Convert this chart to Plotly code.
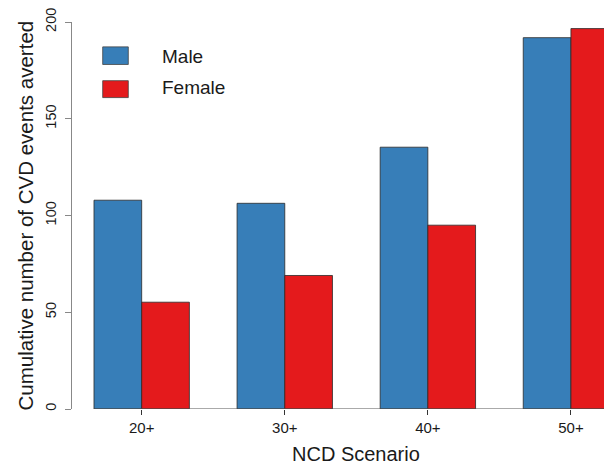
import plotly.graph_objects as go

# ---- data ----
scenarios = ["20+", "30+", "40+", "50+"]
male = [107.9, 106.3, 135.3, 191.9]
female = [55.2, 69.0, 95.0, 196.6]
series_names = ["Male", "Female"]
y_ticks = [0, 50, 100, 150, 200]
x_title = "NCD Scenario"
y_title = "Cumulative number of CVD events averted"

BLUE = "#377EB8"
RED = "#E41A1C"
FONT = "Liberation Sans, Arial, Helvetica, sans-serif"

# the page body has an 8px margin; size the figure so it fits the 612x464 window
OFF = 8
PAGE_W, PAGE_H = 612, 464
W, H = PAGE_W - OFF, PAGE_H - OFF
# plot area in page pixels: left 72, right 612, top 20, bottom 409
L, T = 72 - OFF, 20 - OFF
R = 0
B = H - (409 - OFF)
PW, PH = W - L - R, H - T - B

def px_x(p):  # page pixel -> paper
    return (p - OFF - L) / PW

def px_y(p):
    return (H - B - (p - OFF)) / PH

fig = go.Figure()
fig.add_trace(go.Bar(x=scenarios, y=male, name=series_names[0],
                     marker=dict(color=BLUE, line=dict(color="#2a2a2a", width=0.8))))
fig.add_trace(go.Bar(x=scenarios, y=female, name=series_names[1],
                     marker=dict(color=RED, line=dict(color="#2a2a2a", width=0.8))))

# baseline from the first bar edge to the right
fig.add_shape(type="line", xref="x", yref="y", x0=-1/3, x1=3.4, y0=0, y1=0,
              line=dict(color="#555555", width=1))

# legend drawn manually
legend_rects = [(45, 62.7, BLUE), (79, 96, RED)]
legend_text_y = [54.7, 85.8]
for (t, b, c), ty, name in zip(legend_rects, legend_text_y, series_names):
    fig.add_shape(type="rect", xref="paper", yref="paper",
                  x0=px_x(102.7), x1=px_x(128.3), y0=px_y(b), y1=px_y(t),
                  fillcolor=c, line=dict(color="#444444", width=0.8))
    fig.add_annotation(xref="paper", yref="paper", x=px_x(159.5), y=px_y(ty),
                       text=name, showarrow=False, xanchor="left", yanchor="middle",
                       font=dict(size=19, color="#1a1a1a", family=FONT))

# axis titles
fig.add_annotation(xref="paper", yref="paper", x=px_x(356), y=px_y(454),
                   text=x_title, showarrow=False, xanchor="center", yanchor="middle",
                   font=dict(size=20, color="#1a1a1a", family=FONT))
fig.add_annotation(xref="paper", yref="paper", x=px_x(25), y=px_y(214.5),
                   text=y_title, showarrow=False, xanchor="center", yanchor="middle",
                   textangle=-90, font=dict(size=20.5, color="#1a1a1a", family=FONT))

fig.update_layout(
    width=W, height=H,
    margin=dict(l=L, r=R, t=T, b=B, pad=0),
    paper_bgcolor="white", plot_bgcolor="white",
    barmode="group", bargap=1/3, bargroupgap=0,
    showlegend=False,
    font=dict(family=FONT, color="#1a1a1a"),
    xaxis=dict(type="category", range=[-0.487, 3.287], showgrid=False, zeroline=False,
               showline=False, ticks="outside", ticklen=5, tickcolor="#333333", tickwidth=1,
               tickfont=dict(size=15, family=FONT, color="#1a1a1a")),
    yaxis=dict(range=[0, 200], tickvals=y_ticks, showgrid=False, zeroline=False,
               showline=True, linecolor="#888888", linewidth=1,
               ticks="outside", ticklen=6, tickcolor="#888888", tickwidth=1,
               tickangle=-90, ticklabeloverflow="allow", ticklabelstandoff=3,
               tickfont=dict(size=14.5, family=FONT, color="#1a1a1a")),
)

fig.write_html("out.html")
